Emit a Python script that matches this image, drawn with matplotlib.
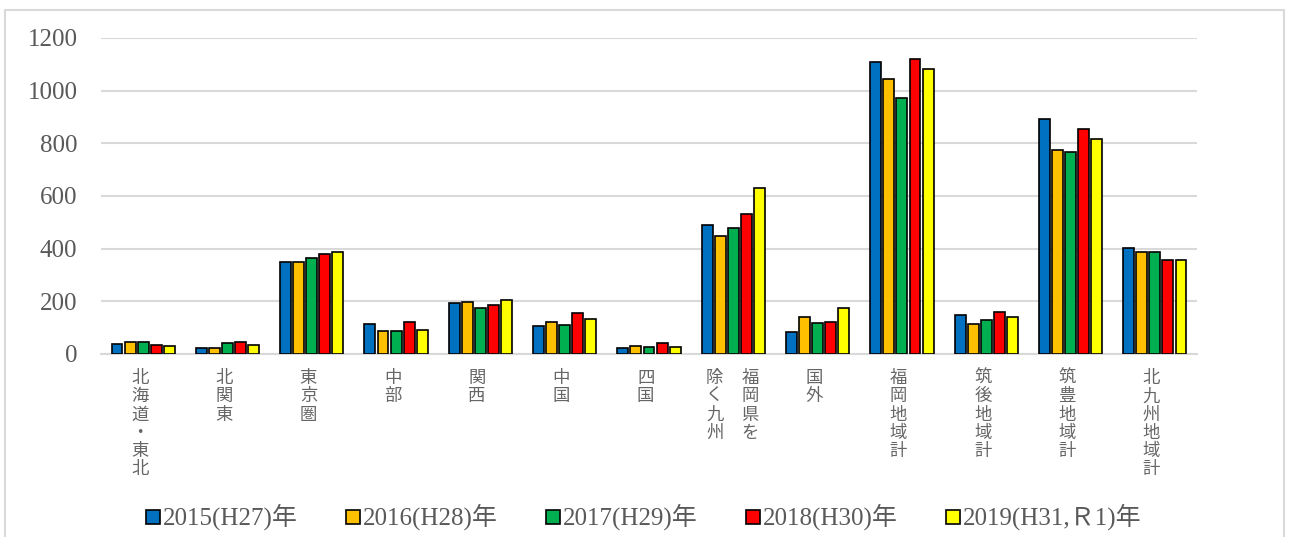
import matplotlib
matplotlib.use('Agg')
import matplotlib.pyplot as plt
import matplotlib.patches as mpatches
import matplotlib.transforms as mtransforms
import numpy as np

plt.rcParams['font.family'] = ['Liberation Serif', 'Noto Sans CJK JP', 'DejaVu Sans']

categories = ['北海道・東北', '北関東', '東京圏', '中部', '関西', '中国', '四国',
              '福岡県を除く九州', '国外', '福岡地域計', '筑後地域計', '筑豊地域計', '北九州地域計']
series_names = ['2015(H27)年', '2016(H28)年', '2017(H29)年', '2018(H30)年', '2019(H31,Ｒ1)年']
v2015 = [37, 21, 350, 114, 194, 106, 21, 490, 83, 1110, 149, 893, 402]
v2016 = [44, 24, 350, 86, 199, 123, 32, 449, 140, 1045, 115, 775, 386]
v2017 = [44, 40, 365, 89, 175, 110, 27, 477, 118, 971, 130, 766, 389]
v2018 = [34, 44, 378, 120, 187, 157, 42, 531, 120, 1120, 161, 855, 358]
v2019 = [29, 33, 386, 90, 205, 132, 27, 632, 173, 1082, 140, 817, 358]
values = [v2015, v2016, v2017, v2018, v2019]
colors = ['#0070C0', '#FFC000', '#00B050', '#FF0000', '#FFFF00']

W, H = 1290, 537
fig = plt.figure(figsize=(W / 100, H / 100), dpi=100)
ax = fig.add_axes([101 / W, 1 - 354 / H, (1197 - 101) / W, (354 - 38) / H])

x = np.arange(len(categories))
step = 0.155
width = 0.13
for i, (vals, c) in enumerate(zip(values, colors)):
    ax.bar(x + (i - 2) * step, vals, width=width, color=c, edgecolor='black', linewidth=1.2, zorder=3)

ax.set_xlim(-0.5, len(categories) - 0.5)
ax.set_ylim(0, 1200)
ax.set_yticks(range(0, 1201, 200))
ax.grid(axis='y', color='#D9D9D9', linewidth=1.5, zorder=0)
for s in ['top', 'right', 'left']:
    ax.spines[s].set_visible(False)
ax.spines['bottom'].set_color('#D9D9D9')
ax.spines['bottom'].set_linewidth(1.5)
ax.tick_params(axis='both', length=0)
ax.tick_params(axis='y', labelsize=18, labelcolor='#595959', pad=17)
ax.set_xticks([])

# vertical category labels
trans = mtransforms.blended_transform_factory(ax.transData, fig.transFigure)
ytop = 1 - 369 / H
for xi, cat in zip(x, categories):
    if cat == '福岡県を除く九州':
        cols = [('福岡県を', 0.2), ('除く九州', -0.22)]
    else:
        cols = [(cat, -0.04)]
    for txt, dx in cols:
        ax.text(xi + dx, ytop, '\n'.join(txt), transform=trans, ha='center', va='top',
                fontsize=12.5, color='#666666', linespacing=1.02,
                family=['Noto Sans CJK JP'])

# legend drawn by hand at the reference spacing
leg_y = 1 - 517 / H
for i, (name, c) in enumerate(zip(series_names, colors)):
    x0 = 146 + 200 * i
    fig.patches.append(mpatches.Rectangle((x0 / W, leg_y - 7 / H), 14 / W, 14 / H,
                                          transform=fig.transFigure, facecolor=c,
                                          edgecolor='black', linewidth=1.2))
    fig.text((x0 + 17) / W, leg_y, name, ha='left', va='center', fontsize=18, color='#595959')

# outer chart border
fig.patches.append(mpatches.Rectangle((5 / W, -0.01), (1284 - 5) / W, 1 - 10 / H + 0.01,
                                      transform=fig.transFigure, fill=False,
                                      edgecolor='#D9D9D9', linewidth=1.5))

fig.savefig('out.png', dpi=100)
